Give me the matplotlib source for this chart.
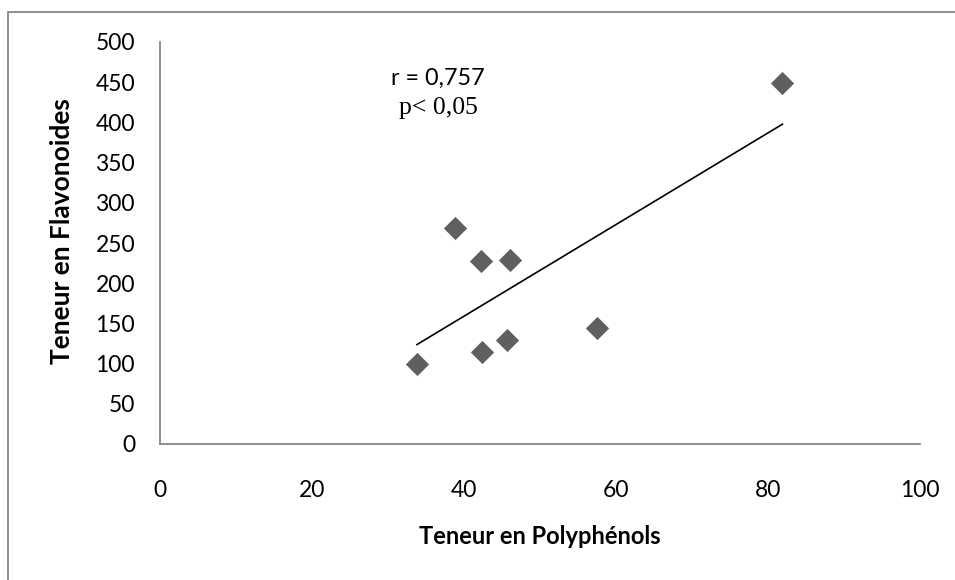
import numpy as np
import matplotlib
matplotlib.use("Agg")
import matplotlib.pyplot as plt
from matplotlib.patches import Rectangle

# polyphenol / flavonoid contents of the extracts
polyphenols = [33.8, 38.8, 42.3, 46.0, 42.4, 45.6, 57.5, 81.9]
flavonoides = [100, 269, 227, 229, 114, 129, 144, 449]
x_ticks = [0, 20, 40, 60, 80, 100]
y_ticks = [0, 50, 100, 150, 200, 250, 300, 350, 400, 450, 500]
r_text = "r = 0,757"
p_text = "p< 0,05"

plt.rcParams['font.family'] = ['Lato', 'DejaVu Sans']

fig = plt.figure(figsize=(9.55, 5.8), dpi=100)
ax = fig.add_axes([160/955, 1-444/580, 760/955, 402/580])

# chart frame (runs off the right/bottom edge)
fig.patches.append(Rectangle((8/955, -0.05), 1.1, 1-12/580+0.05, transform=fig.transFigure,
                             fill=False, edgecolor='#868686', linewidth=1.3))

ax.scatter(polyphenols, flavonoides, marker='D', s=140, color='#5f5f5f', zorder=3, linewidths=0)

# linear trend line
x = np.array(polyphenols)
a, b = np.polyfit(x, flavonoides, 1)
xl = np.array([x.min(), x.max()])
ax.plot(xl, a*xl + b, color='black', linewidth=1.2, zorder=2)

ax.set_xlim(0, 100)
ax.set_ylim(0, 500)
ax.set_xticks(x_ticks)
ax.set_yticks(y_ticks)
ax.tick_params(length=0, labelsize=16.5)
ax.tick_params(axis='y', pad=18)
ax.tick_params(axis='x', pad=26)
for s in ['top', 'right']:
    ax.spines[s].set_visible(False)
for s in ['left', 'bottom']:
    ax.spines[s].set_color('#868686')
    ax.spines[s].set_linewidth(1.3)

ax.set_xlabel("Teneur en Polyphénols", fontsize=17, fontweight='bold', va='center')
ax.xaxis.set_label_coords(0.5, -0.231)
ax.set_ylabel("Teneur en Flavonoides", fontsize=19, fontweight='bold', va='center')
ax.yaxis.set_label_coords(-0.129, 0.53)

ax.text(36.6, 455, r_text, fontsize=16.8, ha='center', va='center')
ax.text(36.6, 418, p_text, fontsize=18.5, ha='center', va='center', family='Liberation Serif')

fig.savefig("out.png", dpi=100, facecolor='white')
